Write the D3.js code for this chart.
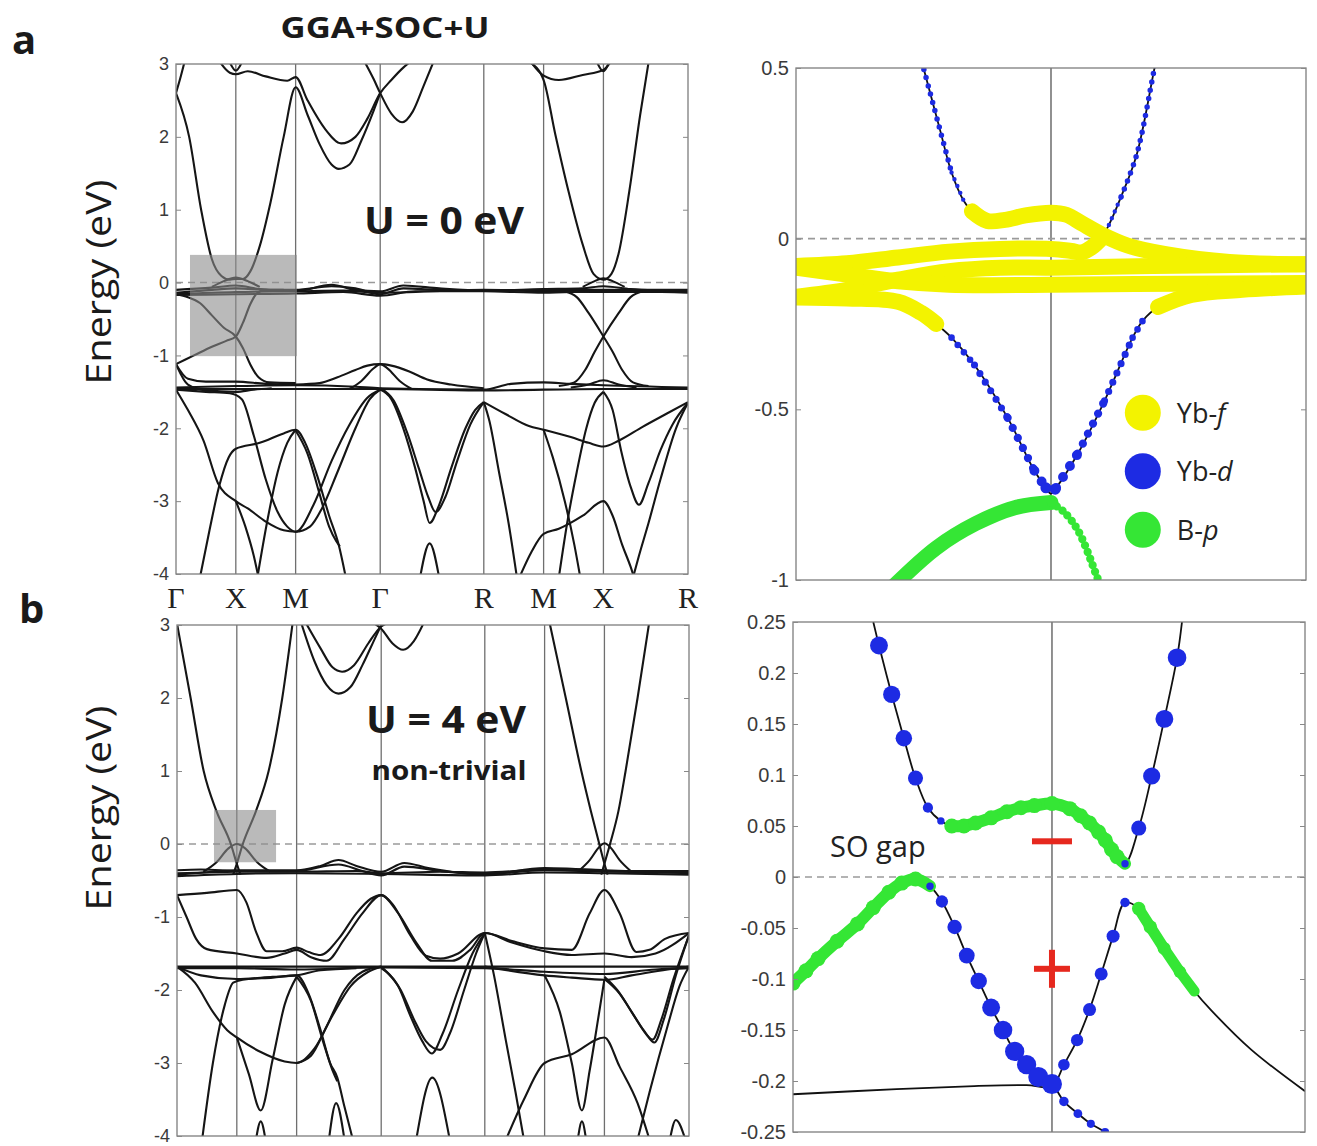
<!DOCTYPE html>
<html>
<head>
<meta charset="utf-8">
<script src="https://cdn.jsdelivr.net/npm/d3@7"></script>
<style>
body { margin: 0; background: #fff; }
svg { display: block; }
</style>
</head>
<body>
<svg id="chart" width="1317" height="1146"></svg>
<script>
// ---- k-path and ticks ----
var kPoints = [0, 0.5, 1.0, 1.707, 2.573, 3.073, 3.573, 4.280];
var kLabels = ["Γ", "X", "M", "Γ", "R", "M", "X", "R"];
var energyTicks = [3, 2, 1, 0, -1, -2, -3, -4];
var zoomTicksA = [0.5, 0, -0.5, -1];
var zoomTicksB = [0.25, 0.2, 0.15, 0.1, 0.05, 0, -0.05, -0.1, -0.15, -0.2, -0.25];

// ---- panel a, U = 0 eV : bands as [k, E] ----
var a_cond1 = [[0,2.6],[0.11,2.0],[0.21,1.0],[0.3,0.32],[0.38,0.09],[0.45,0.04],[0.5,0.05],[0.56,0.05],[0.62,0.15],[0.7,0.5],[0.79,1.1],[0.9,2.0],[1.0,2.68],[1.1,2.3],[1.2,1.9],[1.3,1.62],[1.36,1.56],[1.45,1.62],[1.55,1.95],[1.65,2.35],[1.707,2.6]];
var a_cond2 = [[0.37,3.02],[0.45,2.88],[0.5,2.86],[0.6,2.9],[0.75,2.83],[0.93,2.77],[1.0,2.82],[1.1,2.5],[1.25,2.1],[1.38,1.91],[1.5,2.0],[1.6,2.25],[1.707,2.6],[1.8,2.78],[1.9,2.95],[1.95,3.02]];
var a_cond3 = [[1.58,3.02],[1.65,2.8],[1.707,2.6],[1.8,2.32],[1.89,2.2],[1.98,2.35],[2.07,2.7],[2.15,3.02]];
var a_cond4 = [[0,2.6],[0.035,2.8],[0.07,3.02]];
var a_loop1 = [[0.45,3.02],[0.5,2.91],[0.55,3.02]];
var a_cond5 = [[2.96,3.02],[3.073,2.78],[3.17,2.04],[3.28,1.26],[3.4,0.52],[3.49,0.12],[3.573,0.04],[3.64,0.12],[3.7,0.4],[3.79,1.26],[3.88,2.3],[3.95,3.02]];
var a_cond6 = [[2.97,3.02],[3.073,2.84],[3.2,2.78],[3.4,2.85],[3.573,2.92],[3.63,3.02]];
var a_loop2 = [[3.52,3.02],[3.573,2.9],[3.62,3.02]];
var a_f1 = [[0,-0.14],[0.3,-0.1],[0.5,-0.08],[0.8,-0.1],[1.0,-0.1],[1.3,-0.05],[1.5,-0.08],[1.707,-0.16],[1.9,-0.08],[2.2,-0.1],[2.573,-0.11],[3.073,-0.09],[3.4,-0.08],[3.573,-0.05],[3.8,-0.09],[4.28,-0.12]];
var a_f2 = [[0,-0.1],[0.3,-0.07],[0.5,-0.04],[0.7,-0.09],[1.0,-0.12],[1.3,-0.03],[1.5,-0.1],[1.707,-0.12],[1.9,-0.04],[2.2,-0.08],[2.573,-0.11],[3.073,-0.1],[3.573,-0.1],[4.28,-0.1]];
var a_f3 = [[0,-0.16],[0.5,-0.13],[1.0,-0.12],[1.4,-0.11],[1.707,-0.14],[2.573,-0.1],[3.073,-0.12],[3.573,-0.13],[4.28,-0.13]];
var a_f4 = [[0,-0.17],[0.5,-0.16],[1.0,-0.15],[1.4,-0.13],[1.707,-0.18],[2.0,-0.12],[2.573,-0.12],[3.073,-0.14],[3.573,-0.12],[4.28,-0.14]];
var a_hump1 = [[0.3,-0.06],[0.4,0.02],[0.5,0.07],[0.6,0.02],[0.7,-0.06]];
var a_hump2 = [[3.4,-0.06],[3.5,0.02],[3.573,0.06],[3.65,0.02],[3.75,-0.06]];
var a_cross1 = [[0,-1.12],[0.15,-1.0],[0.3,-0.88],[0.42,-0.8],[0.5,-0.74],[0.56,-0.55],[0.62,-0.3],[0.68,-0.14],[0.75,-0.1],[0.9,-0.1]];
var a_cross2 = [[0,-0.16],[0.1,-0.2],[0.2,-0.28],[0.3,-0.45],[0.4,-0.62],[0.5,-0.74],[0.56,-0.9],[0.62,-1.12],[0.69,-1.3],[0.78,-1.37],[1.0,-1.38]];
var a_cross3 = [[3.25,-0.12],[3.35,-0.2],[3.45,-0.42],[3.573,-0.74],[3.65,-0.95],[3.73,-1.2],[3.82,-1.37],[3.95,-1.42]];
var a_cross4 = [[3.2,-1.42],[3.33,-1.37],[3.42,-1.2],[3.5,-0.95],[3.573,-0.74],[3.7,-0.42],[3.8,-0.2],[3.9,-0.12]];
var a_bell1 = [[1.0,-1.4],[1.2,-1.38],[1.35,-1.3],[1.5,-1.2],[1.6,-1.14],[1.707,-1.12],[1.8,-1.14],[1.95,-1.22],[2.1,-1.33],[2.3,-1.4],[2.573,-1.45]];
var a_bell2 = [[1.45,-1.46],[1.55,-1.35],[1.65,-1.18],[1.707,-1.12],[1.77,-1.18],[1.87,-1.35],[1.97,-1.46]];
var a_g1 = [[0,-1.12],[0.1,-1.32],[0.25,-1.36],[0.5,-1.36],[0.75,-1.39],[1.0,-1.4]];
var a_g2 = [[0,-1.12],[0.1,-1.4],[0.25,-1.48],[0.5,-1.5],[0.65,-1.47],[0.8,-1.45]];
var a_g3 = [[3.3,-1.44],[3.45,-1.4],[3.573,-1.34],[3.7,-1.4],[3.85,-1.44]];
var a_flat1 = [[0,-1.46],[1,-1.46],[1.707,-1.46],[2.573,-1.48],[3.573,-1.46],[4.28,-1.46]];
var a_flat2 = [[0,-1.44],[0.5,-1.42],[1.0,-1.41],[1.5,-1.43],[1.707,-1.45],[2.573,-1.47],[2.8,-1.39],[3.073,-1.37],[3.3,-1.39],[3.573,-1.41],[4.28,-1.44]];
var a_low1 = [[0,-1.47],[0.1,-1.75],[0.23,-2.17],[0.35,-2.75],[0.5,-3.0],[0.6,-3.1],[0.75,-3.28],[0.9,-3.4],[1.0,-3.42],[1.12,-3.35],[1.22,-3.1],[1.35,-2.6],[1.5,-2.0],[1.62,-1.6],[1.707,-1.47]];
var a_low2 = [[0.5,-3.0],[0.58,-3.35],[0.65,-3.75],[0.69,-4.05]];
var a_low3 = [[0.2,-4.05],[0.28,-3.4],[0.36,-2.8],[0.44,-2.4],[0.5,-2.28],[0.7,-2.2],[0.9,-2.07],[1.0,-2.02],[1.08,-2.2],[1.18,-2.65],[1.28,-3.2],[1.36,-3.6],[1.42,-4.05]];
var a_low4 = [[1.0,-2.03],[1.1,-2.35],[1.2,-2.9],[1.28,-3.35],[1.34,-3.55],[1.37,-3.62]];
var a_low5 = [[0.68,-4.05],[0.76,-3.3],[0.85,-2.6],[0.93,-2.2],[1.0,-2.02]];
var a_low6 = [[0,-1.47],[0.25,-1.5],[0.45,-1.52],[0.55,-1.6],[0.65,-2.1],[0.75,-2.7],[0.85,-3.15],[0.93,-3.35],[1.0,-3.42],[1.15,-3.05],[1.3,-2.45],[1.45,-1.95],[1.6,-1.58],[1.707,-1.47]];
var a_low7 = [[1.707,-1.47],[1.8,-1.6],[1.9,-2.0],[2.0,-2.55],[2.07,-3.0],[2.12,-3.3],[2.2,-3.05],[2.3,-2.55],[2.42,-2.0],[2.5,-1.75],[2.573,-1.64]];
var a_low8 = [[1.707,-1.45],[1.82,-1.62],[1.93,-2.05],[2.03,-2.55],[2.11,-2.95],[2.17,-3.15],[2.25,-2.95],[2.35,-2.45],[2.46,-1.95],[2.573,-1.64]];
var a_low9 = [[2.04,-4.05],[2.12,-3.58],[2.2,-4.05]];
var a_low10 = [[2.573,-1.64],[2.62,-1.9],[2.7,-2.6],[2.78,-3.3],[2.85,-4.05]];
var a_low11 = [[2.573,-1.64],[2.75,-1.8],[2.95,-1.97],[3.073,-2.02],[3.3,-2.12],[3.45,-2.2],[3.573,-2.25],[3.7,-2.17],[3.9,-1.98],[4.1,-1.8],[4.28,-1.64]];
var a_low12 = [[2.87,-4.05],[2.97,-3.7],[3.073,-3.45],[3.2,-3.38],[3.4,-3.2],[3.573,-3.0],[3.65,-3.2],[3.73,-3.6],[3.8,-3.9],[3.83,-4.05]];
var a_low13 = [[3.573,-1.5],[3.65,-1.75],[3.72,-2.3],[3.8,-2.8],[3.87,-3.05],[3.95,-2.75],[4.05,-2.3],[4.15,-1.95],[4.28,-1.65]];
var a_low14 = [[3.2,-4.05],[3.27,-3.3],[3.35,-2.6],[3.43,-2.0],[3.5,-1.65],[3.573,-1.5]];
var a_low15 = [[3.073,-2.02],[3.15,-2.4],[3.25,-3.0],[3.33,-3.6],[3.38,-4.05]];
var a_low16 = [[3.82,-4.05],[3.87,-3.75],[3.95,-3.3],[4.05,-2.7],[4.18,-2.0],[4.28,-1.65]];
var bandsU0 = [a_cond1, a_cond2, a_cond3, a_cond4, a_loop1, a_cond5, a_cond6, a_loop2,
  a_f1, a_f2, a_f3, a_f4, a_hump1, a_hump2, a_cross1, a_cross2, a_cross3, a_cross4,
  a_bell1, a_bell2, a_g1, a_g2, a_g3, a_flat1, a_flat2,
  a_low1, a_low2, a_low3, a_low4, a_low5, a_low6, a_low7, a_low8, a_low9, a_low10,
  a_low11, a_low12, a_low13, a_low14, a_low15, a_low16];
var boxU0 = {k: [0.117, 1.011], e: [-1.01, 0.38]};

// ---- panel b, U = 4 eV ----
var b_cond1 = [[0,3.02],[0.114,2.0],[0.223,1.0],[0.33,0.45],[0.45,0.0],[0.5,-0.27],[0.53,-0.42]];
var b_cond2 = [[0.47,-0.42],[0.5,-0.27],[0.55,0.0],[0.66,0.45],[0.766,1.0],[0.88,2.0],[0.966,3.02]];
var b_hump1 = [[0.22,-0.38],[0.33,-0.25],[0.43,-0.06],[0.5,0.0],[0.57,-0.06],[0.67,-0.25],[0.78,-0.38]];
var b_cond3 = [[1.04,3.02],[1.15,2.5],[1.25,2.18],[1.35,2.06],[1.45,2.15],[1.55,2.45],[1.65,2.8],[1.707,3.0]];
var b_cond4 = [[1.08,3.02],[1.2,2.68],[1.3,2.42],[1.38,2.36],[1.48,2.45],[1.6,2.75],[1.707,2.98],[1.75,3.02]];
var b_cond5 = [[1.65,3.02],[1.707,2.95],[1.8,2.75],[1.89,2.66],[1.98,2.78],[2.06,3.02]];
var b_cond6 = [[3.116,3.02],[3.25,2.0],[3.38,1.0],[3.46,0.45],[3.53,0.0],[3.573,-0.27],[3.6,-0.42]];
var b_cond7 = [[3.546,-0.42],[3.573,-0.27],[3.62,0.0],[3.69,0.45],[3.75,1.0],[3.85,2.0],[3.946,3.02]];
var b_hump2 = [[3.35,-0.38],[3.45,-0.22],[3.53,-0.04],[3.573,0.01],[3.62,-0.04],[3.7,-0.22],[3.8,-0.38]];
var b_f1 = [[0,-0.42],[0.3,-0.38],[0.5,-0.36],[1.0,-0.36],[1.2,-0.3],[1.35,-0.22],[1.5,-0.3],[1.707,-0.38],[1.9,-0.26],[2.1,-0.33],[2.573,-0.42],[3.073,-0.33],[3.3,-0.34],[3.573,-0.36],[4.28,-0.4]];
var b_f2 = [[0,-0.4],[0.5,-0.38],[1.0,-0.37],[1.35,-0.28],[1.55,-0.37],[1.707,-0.43],[1.9,-0.31],[2.2,-0.37],[2.573,-0.41],[3.073,-0.36],[3.573,-0.38],[4.28,-0.39]];
var b_f3 = [[0,-0.36],[0.2,-0.35],[0.5,-0.37],[1.0,-0.38],[1.5,-0.37],[1.707,-0.4],[2.2,-0.38],[2.573,-0.39],[3.073,-0.35],[3.573,-0.37],[4.28,-0.37]];
var b_f4 = [[0,-0.44],[0.5,-0.41],[1.0,-0.4],[1.707,-0.41],[2.573,-0.43],[3.073,-0.39],[3.573,-0.4],[4.28,-0.42]];
var b_p1 = [[0,-0.7],[0.25,-0.67],[0.5,-0.63],[0.58,-0.8],[0.66,-1.2],[0.75,-1.47],[0.88,-1.47],[1.0,-1.42],[1.1,-1.48],[1.2,-1.52],[1.35,-1.3],[1.5,-0.95],[1.62,-0.75],[1.707,-0.7],[1.8,-0.82],[1.95,-1.25],[2.08,-1.53],[2.2,-1.57],[2.35,-1.5],[2.573,-1.22],[2.8,-1.33],[3.073,-1.43],[3.3,-1.45],[3.45,-0.95],[3.573,-0.63],[3.7,-0.95],[3.84,-1.48],[3.95,-1.45],[4.08,-1.3],[4.28,-1.22]];
var b_p2 = [[0,-0.7],[0.08,-1.0],[0.16,-1.3],[0.25,-1.44],[0.5,-1.5],[0.75,-1.56],[0.9,-1.5],[1.0,-1.45],[1.12,-1.55],[1.25,-1.6],[1.4,-1.3],[1.55,-0.95],[1.707,-0.7],[1.85,-0.95],[2.0,-1.35],[2.13,-1.6],[2.3,-1.6],[2.45,-1.45],[2.573,-1.22],[2.8,-1.35],[3.073,-1.47],[3.3,-1.52],[3.573,-1.5],[3.8,-1.55],[4.0,-1.5],[4.28,-1.22]];
var b_flat1 = [[0,-1.68],[1,-1.68],[1.707,-1.68],[2.573,-1.68],[3.573,-1.68],[4.28,-1.68]];
var b_flat2 = [[0,-1.7],[0.5,-1.7],[1.0,-1.72],[1.707,-1.69],[2.573,-1.7],[3.073,-1.75],[3.573,-1.78],[4.0,-1.72],[4.28,-1.7]];
var b_flat3 = [[2.573,-1.68],[3.073,-1.8],[3.3,-1.83],[3.573,-1.86],[3.8,-1.8],[4.1,-1.72],[4.28,-1.68]];
var b_flat4 = [[0,-1.68],[0.2,-1.8],[0.5,-1.85],[0.8,-1.82],[1.0,-1.8],[1.2,-1.73],[1.5,-1.7]];
var b_h1 = [[0,-1.68],[0.15,-1.9],[0.3,-2.3],[0.42,-2.55],[0.5,-2.65],[0.7,-2.85],[0.9,-2.98],[1.0,-3.0],[1.15,-2.8],[1.3,-2.35],[1.45,-1.95],[1.6,-1.75],[1.707,-1.68]];
var b_q1 = [[0.21,-4.05],[0.3,-3.0],[0.4,-2.2],[0.47,-1.9],[0.55,-1.86],[0.8,-1.83],[1.0,-1.8],[1.1,-2.05],[1.2,-2.55],[1.28,-3.0],[1.34,-3.2],[1.4,-3.6],[1.47,-4.05]];
var b_q2 = [[1.0,-1.82],[1.12,-2.15],[1.22,-2.7],[1.3,-3.1],[1.34,-3.25]];
var b_v1 = [[0.5,-2.65],[0.6,-3.15],[0.7,-3.65],[0.8,-2.95],[0.9,-2.2],[1.0,-1.82]];
var b_v1L = [[0.66,-4.05],[0.7,-3.8],[0.74,-4.05]];
var b_lam2 = [[1.27,-4.05],[1.33,-3.55],[1.4,-4.05]];
var b_i3 = [[1.0,-3.0],[1.12,-2.9],[1.25,-2.5],[1.4,-2.0],[1.55,-1.75],[1.707,-1.68]];
var b_d1 = [[1.707,-1.7],[1.85,-1.95],[1.95,-2.35],[2.05,-2.7],[2.13,-2.87],[2.22,-2.6],[2.35,-2.0],[2.47,-1.5],[2.573,-1.22]];
var b_d2 = [[1.707,-1.68],[1.87,-2.0],[1.98,-2.4],[2.08,-2.7],[2.2,-2.82],[2.28,-2.6],[2.4,-2.0],[2.5,-1.5],[2.573,-1.22]];
var b_d3 = [[2.0,-4.05],[2.134,-3.2],[2.28,-4.05]];
var b_e1 = [[2.573,-1.22],[2.65,-1.8],[2.75,-2.7],[2.83,-3.4],[2.9,-4.05]];
var b_x1 = [[3.573,-1.82],[3.68,-2.0],[3.8,-2.3],[3.9,-2.55],[3.976,-2.68],[4.05,-2.4],[4.15,-1.85],[4.28,-1.25]];
var b_x2 = [[3.573,-1.85],[3.7,-2.05],[3.82,-2.35],[3.92,-2.6],[3.99,-2.72],[4.07,-2.4],[4.17,-1.8],[4.28,-1.25]];
var b_v2 = [[3.073,-1.8],[3.2,-2.3],[3.3,-3.0],[3.385,-3.65],[3.45,-3.1],[3.52,-2.4],[3.573,-1.85]];
var b_v2L = [[3.35,-4.05],[3.385,-3.8],[3.42,-4.05]];
var b_g1 = [[2.75,-4.05],[2.9,-3.5],[3.073,-3.0],[3.3,-2.88],[3.573,-2.65],[3.7,-3.05],[3.85,-3.55],[3.95,-4.05]];
var b_r1 = [[3.85,-4.05],[3.95,-3.4],[4.1,-2.5],[4.2,-1.95],[4.28,-1.68]];
var b_lam3 = [[4.12,-4.05],[4.17,-3.78],[4.25,-4.05]];
var bandsU4 = [b_cond1, b_cond2, b_hump1, b_cond3, b_cond4, b_cond5, b_cond6, b_cond7, b_hump2,
  b_f1, b_f2, b_f3, b_f4, b_p1, b_p2, b_flat1, b_flat2, b_flat3, b_flat4, b_h1,
  b_q1, b_q2, b_v1, b_v1L, b_lam2, b_i3, b_d1, b_d2, b_d3, b_e1, b_x1, b_x2,
  b_v2, b_v2L, b_g1, b_r1, b_lam3];
var boxU4 = {k: [0.309, 0.828], e: [-0.25, 0.466]};

// ---- zoom a: [k, E, orbital, weight] ----
var za_cond1 = [[-0.55,0.64,"d",0.5],[-0.5,0.5,"d",0.5],[-0.435,0.318,"d",0.5],[-0.39,0.194,"d",0.4],[-0.343,0.112,"",0],[-0.31,0.08,"f",1],[-0.25,0.052,"f",1],[-0.18,0.055,"f",1],[-0.1,0.068,"f",1],[0,0.076,"f",1],[0.06,0.07,"f",1],[0.12,0.045,"f",1],[0.2,0.012,"f",1],[0.3,-0.02,"f",1],[0.45,-0.045,"f",1],[0.7,-0.068,"f",1],[1.0,-0.075,"f",1]];
var za_cond2 = [[-1,-0.08,"f",1],[-0.8,-0.072,"f",1],[-0.6,-0.055,"f",1],[-0.4,-0.038,"f",1],[-0.2,-0.03,"f",1],[0,-0.03,"f",1],[0.08,-0.036,"f",1],[0.12,-0.04,"f",1],[0.16,-0.025,"f",1],[0.196,0.0,"",0],[0.227,0.04,"d",0.4],[0.275,0.123,"d",0.5],[0.336,0.246,"d",0.5],[0.406,0.5,"d",0.5],[0.44,0.62,"d",0.5]];
var za_f1 = [[-1,-0.17,"f",1],[-0.8,-0.15,"f",1],[-0.6,-0.12,"f",1],[-0.4,-0.095,"f",1],[-0.2,-0.085,"f",1],[0,-0.085,"f",1],[0.4,-0.08,"f",1],[1,-0.075,"f",1]];
var za_f2 = [[-1,-0.085,"f",1],[-0.8,-0.105,"f",1],[-0.6,-0.125,"f",1],[-0.4,-0.135,"f",1],[0,-0.135,"f",1],[0.5,-0.132,"f",1],[1,-0.13,"f",1]];
var za_val = [[-1,-0.172,"f",1],[-0.8,-0.175,"f",1],[-0.6,-0.185,"f",1],[-0.51,-0.217,"f",1],[-0.45,-0.25,"",0],[-0.39,-0.29,"d",0.6],[-0.3,-0.37,"d",0.65],[-0.17,-0.525,"d",0.75],[-0.065,-0.68,"d",0.9],[-0.02,-0.73,"d",1],[0,-0.747,"d",1],[0.02,-0.73,"d",0.9],[0.105,-0.63,"d",0.75],[0.21,-0.475,"d",0.65],[0.32,-0.29,"d",0.6],[0.36,-0.24,"",0],[0.42,-0.2,"f",1],[0.55,-0.165,"f",1],[0.75,-0.15,"f",1],[1,-0.14,"f",1]];
var za_green = [[-0.62,-1.02,"p",1],[-0.45,-0.906,"p",1],[-0.296,-0.835,"p",1],[-0.142,-0.788,"p",1],[0,-0.773,"p",0.55],[0.05,-0.8,"p",0.55],[0.106,-0.855,"p",0.55],[0.18,-0.99,"p",0.55],[0.2,-1.03,"p",0.55]];
var zoomBandsA = [za_cond1, za_cond2, za_f1, za_f2, za_val, za_green];
var legendNames = ["Yb-", "Yb-", "B-"];
var legendOrbitals = ["f", "d", "p"];

// ---- zoom b ----
var zb_cond = [[-0.69,0.25,"",0],[-0.668,0.227,"d",0.85],[-0.619,0.179,"d",0.8],[-0.572,0.136,"d",0.75],[-0.527,0.097,"d",0.65],[-0.479,0.068,"d",0.3],[-0.429,0.055,"d",0.1],[-0.387,0.05,"p",1],[-0.34,0.05,"p",1],[-0.295,0.053,"p",1],[-0.235,0.058,"p",1],[-0.174,0.064,"p",1],[-0.12,0.068,"p",1],[-0.068,0.07,"p",1],[0,0.072,"p",1],[0.069,0.067,"p",1],[0.11,0.06,"p",1],[0.145,0.053,"p",1],[0.18,0.044,"p",1],[0.206,0.036,"p",1],[0.23,0.027,"p",1],[0.251,0.02,"p",1],[0.282,0.013,"d",0.1],[0.335,0.048,"d",0.65],[0.385,0.099,"d",0.8],[0.434,0.155,"d",0.85],[0.483,0.215,"d",0.9],[0.502,0.25,"",0]];
var zb_val1 = [[-1,-0.104,"p",1],[-0.95,-0.092,"p",1],[-0.903,-0.08,"p",1],[-0.83,-0.063,"p",1],[-0.751,-0.046,"p",1],[-0.69,-0.03,"p",1],[-0.63,-0.015,"p",1],[-0.58,-0.006,"p",1],[-0.527,-0.002,"p",1],[-0.471,-0.009,"d",0.1],[-0.425,-0.024,"d",0.45],[-0.376,-0.049,"d",0.6],[-0.329,-0.077,"d",0.7],[-0.283,-0.102,"d",0.75],[-0.235,-0.128,"d",0.85],[-0.189,-0.15,"d",0.9],[-0.144,-0.171,"d",0.95],[-0.098,-0.184,"d",0.95],[-0.053,-0.196,"d",1],[0,-0.203,"d",1],[0.046,-0.22,"d",0.25],[0.1,-0.232,"d",0.2],[0.15,-0.242,"d",0.15],[0.205,-0.25,"d",0.15],[0.25,-0.26,"",0]];
var zb_val2 = [[-1,-0.213,"",0],[-0.6,-0.208,"",0],[-0.3,-0.205,"",0],[-0.098,-0.204,"",0],[0,-0.205,"",0],[0.046,-0.184,"d",0.4],[0.097,-0.16,"d",0.45],[0.145,-0.13,"d",0.5],[0.19,-0.095,"d",0.5],[0.236,-0.058,"d",0.5],[0.282,-0.025,"d",0.25],[0.335,-0.031,"p",0.7],[0.38,-0.049,"p",0.7],[0.433,-0.07,"p",0.6],[0.494,-0.093,"p",0.5],[0.55,-0.112,"",0],[0.616,-0.131,"",0],[0.768,-0.169,"",0],[0.977,-0.21,"",0]];
var zoomBandsB = [zb_cond, zb_val1, zb_val2];
var parityMinus = [0, 0.035];
var parityPlus = [0, -0.09];

// ---- drawing ----
var svg = d3.select("#chart");
var orbColor = {f: "#f3f300", d: "#1d2be3", p: "#35e635"};
var sans = "'Open Sans', sans-serif";

function frameAndAxes(g, x, y, ticks, fontSize) {
  var xr = x.range(), yr = y.range();
  g.append("rect").attr("x", xr[0]).attr("y", yr[1])
    .attr("width", xr[1] - xr[0]).attr("height", yr[0] - yr[1])
    .attr("fill", "none").attr("stroke", "#7d7d7d").attr("stroke-width", 1.3);
  var left = g.append("g").attr("transform", "translate(" + xr[0] + ",0)")
    .call(d3.axisLeft(y).tickValues(ticks).tickSize(-5).tickPadding(7).tickFormat(String));
  left.select(".domain").remove();
  left.attr("font-family", "'Liberation Sans', Arial, sans-serif").attr("font-size", fontSize).attr("color", "#3a3a3a");
  left.selectAll("line").attr("stroke", "#888");
  var right = g.append("g").attr("transform", "translate(" + xr[1] + ",0)")
    .call(d3.axisRight(y).tickValues(ticks).tickSize(-5).tickFormat(""));
  right.select(".domain").remove();
  right.selectAll("line").attr("stroke", "#888");
}

function bandPanel(id, xr, yr, bands, box) {
  var x = d3.scaleLinear().domain([0, kPoints[kPoints.length - 1]]).range(xr),
      y = d3.scaleLinear().domain([-4, 3]).range(yr);
  var g = svg.append("g");
  g.append("clipPath").attr("id", id).append("rect")
    .attr("x", xr[0]).attr("y", yr[1]).attr("width", xr[1] - xr[0]).attr("height", yr[0] - yr[1]);
  var plot = g.append("g").attr("clip-path", "url(#" + id + ")");

  plot.selectAll("line.k").data(kPoints.slice(1, -1)).enter().append("line")
    .attr("x1", x).attr("x2", x).attr("y1", yr[1]).attr("y2", yr[0])
    .attr("stroke", "#6f6f6f").attr("stroke-width", 1.3);
  plot.append("line").attr("x1", xr[0]).attr("x2", xr[1]).attr("y1", y(0)).attr("y2", y(0))
    .attr("stroke", "#9a9a9a").attr("stroke-width", 1.6).attr("stroke-dasharray", "7,5");

  var line = d3.line().curve(d3.curveMonotoneX)
    .x(function(d) { return x(d[0]); })
    .y(function(d) { return y(d[1]); });
  plot.selectAll("path.band").data(bands).enter().append("path")
    .attr("class", "band").attr("d", line)
    .attr("fill", "none").attr("stroke", "#151515").attr("stroke-width", 2.1);

  // highlighted region
  plot.append("rect")
    .attr("x", x(box.k[0])).attr("y", y(box.e[1]))
    .attr("width", x(box.k[1]) - x(box.k[0])).attr("height", y(box.e[0]) - y(box.e[1]))
    .attr("fill", "#8c8c8c").attr("opacity", 0.6);

  frameAndAxes(g, x, y, energyTicks, 18);
  return {x: x, y: y, g: g};
}

// split a band into runs sharing orbital character and weight
function runs(band) {
  var out = [], cur = null;
  band.forEach(function(p) {
    var key = p[2] + "|" + p[3];
    if (!cur || cur.key !== key) {
      if (cur) cur.pts.push(p);
      cur = {key: key, orb: p[2], w: p[3], pts: [p]};
      out.push(cur);
    } else {
      cur.pts.push(p);
    }
  });
  return out.filter(function(r) { return r.orb && r.pts.length > 1; });
}

function zoomPanel(id, kd, xr, ed, yr, bands) {
  var x = d3.scaleLinear().domain(kd).range(xr),
      y = d3.scaleLinear().domain(ed).range(yr);
  var g = svg.append("g");
  g.append("clipPath").attr("id", id).append("rect")
    .attr("x", xr[0]).attr("y", yr[1]).attr("width", xr[1] - xr[0]).attr("height", yr[0] - yr[1]);
  var plot = g.append("g").attr("clip-path", "url(#" + id + ")");
  plot.append("line").attr("x1", x(0)).attr("x2", x(0)).attr("y1", yr[1]).attr("y2", yr[0])
    .attr("stroke", "#555").attr("stroke-width", 1.3);
  plot.append("line").attr("x1", xr[0]).attr("x2", xr[1]).attr("y1", y(0)).attr("y2", y(0))
    .attr("stroke", "#9a9a9a").attr("stroke-width", 1.6).attr("stroke-dasharray", "7,5");
  var line = d3.line().curve(d3.curveCatmullRom.alpha(0.5))
    .x(function(d) { return x(d[0]); })
    .y(function(d) { return y(d[1]); });
  plot.selectAll("path.band").data(bands).enter().append("path")
    .attr("d", line).attr("fill", "none").attr("stroke", "#111").attr("stroke-width", 1.8);
  return {x: x, y: y, g: g, plot: plot, line: line};
}

// ---- panel a (left) ----
var pa = bandPanel("clipA", [176, 688], [574, 64], bandsU0, boxU0);
pa.g.selectAll("text.klab").data(kPoints).enter().append("text")
  .attr("x", function(d) { return pa.x(d); }).attr("y", 608)
  .attr("text-anchor", "middle").attr("font-family", "'Liberation Serif', 'Times New Roman', serif")
  .attr("font-size", 30).attr("fill", "#222")
  .text(function(d, i) { return kLabels[i]; });

// ---- panel b (left) ----
var pb = bandPanel("clipB", [177, 689], [1136, 625], bandsU4, boxU4);

// ---- zoom a ----
var za = zoomPanel("clipZA", [-1, 1], [796, 1306], [-1, 0.5], [580, 68], zoomBandsA);
var allRunsA = [];
zoomBandsA.forEach(function(b) { runs(b).forEach(function(r) { allRunsA.push(r); }); });
["f", "d", "p"].forEach(function(orb) {
  allRunsA.filter(function(r) { return r.orb === orb; }).forEach(function(r) {
    var p = za.plot.append("path").attr("d", za.line(r.pts)).attr("fill", "none")
      .attr("stroke", orbColor[orb]).attr("stroke-linecap", "round").attr("stroke-linejoin", "round");
    if (orb === "f") p.attr("stroke-width", 16);
    if (orb === "d") p.attr("stroke-width", 11 * r.w).attr("stroke-dasharray", "0 " + (11 * r.w + 3));
    if (orb === "p") {
      p.attr("stroke-width", 15 * r.w);
      if (r.w < 0.9) p.attr("stroke-dasharray", "0 7");
    }
  });
});
frameAndAxes(za.g, za.x, za.y, zoomTicksA, 20);

// legend
var legend = za.g.append("g");
legendOrbitals.forEach(function(o, i) {
  var cy = za.y(-0.51) + i * 58.5, cx = za.x(0.36);
  legend.append("circle").attr("cx", cx).attr("cy", cy).attr("r", 18).attr("fill", orbColor[o]);
  var t = legend.append("text").attr("x", cx + 34).attr("y", cy + 10)
    .attr("font-family", sans).attr("font-size", 27).attr("fill", "#222");
  t.append("tspan").text(legendNames[i]);
  t.append("tspan").attr("font-style", "italic").text(o);
});

// ---- zoom b ----
var zb = zoomPanel("clipZB", [-1, 0.977], [793, 1305], [-0.25, 0.25], [1132, 622], zoomBandsB);
var allRunsB = [];
zoomBandsB.forEach(function(b) { runs(b).forEach(function(r) { allRunsB.push(r); }); });
allRunsB.filter(function(r) { return r.orb === "p"; }).forEach(function(r) {
  zb.plot.append("path").attr("d", zb.line(r.pts)).attr("fill", "none")
    .attr("stroke", orbColor.p).attr("stroke-width", 9 + 3 * r.w).attr("stroke-linecap", "round");
});
var greenPts = [], bluePts = [];
zoomBandsB.forEach(function(b) {
  b.forEach(function(p) {
    if (p[2] === "p") greenPts.push(p);
    if (p[2] === "d") bluePts.push(p);
  });
});
zb.plot.selectAll("circle.g").data(greenPts).enter().append("circle")
  .attr("cx", function(d) { return zb.x(d[0]); }).attr("cy", function(d) { return zb.y(d[1]); })
  .attr("r", function(d) { return 5 + 2.5 * d[3]; }).attr("fill", orbColor.p);
zb.plot.selectAll("circle.b").data(bluePts).enter().append("circle")
  .attr("cx", function(d) { return zb.x(d[0]); }).attr("cy", function(d) { return zb.y(d[1]); })
  .attr("r", function(d) { return 3 + 7 * d[3]; }).attr("fill", orbColor.d);
frameAndAxes(zb.g, zb.x, zb.y, zoomTicksB, 20);

// parity marks
var red = "#e6281e";
zb.g.append("rect").attr("x", zb.x(parityMinus[0]) - 20).attr("y", zb.y(parityMinus[1]) - 3)
  .attr("width", 40).attr("height", 6).attr("fill", red);
zb.g.append("rect").attr("x", zb.x(parityPlus[0]) - 18).attr("y", zb.y(parityPlus[1]) - 3)
  .attr("width", 36).attr("height", 6).attr("fill", red);
zb.g.append("rect").attr("x", zb.x(parityPlus[0]) - 3).attr("y", zb.y(parityPlus[1]) - 19)
  .attr("width", 6).attr("height", 38).attr("fill", red);
zb.g.append("text").attr("x", zb.x(-0.857)).attr("y", zb.y(0.02))
  .attr("font-family", sans).attr("font-size", 29).attr("fill", "#222").text("SO gap");

// ---- labels ----
function label(txt, x, y, size, weight, anchor, len) {
  var t = svg.append("text").attr("x", x).attr("y", y)
    .attr("font-family", sans).attr("font-size", size).attr("font-weight", weight)
    .attr("text-anchor", anchor).attr("fill", "#1a1a1a").text(txt);
  if (len) t.attr("textLength", len).attr("lengthAdjust", "spacingAndGlyphs");
  return t;
}
label("a", 12, 54, 40, "bold", "start");
label("b", 19, 623, 40, "bold", "start");
label("GGA+SOC+U", 385, 38, 29, "bold", "middle", 209);
label("U = 0 eV", 444, 234, 37, "bold", "middle", 160);
label("U = 4 eV", 446, 733, 37, "bold", "middle", 160);
label("non-trivial", 449, 780, 27, "bold", "middle", 155);
[282, 808].forEach(function(cy) {
  svg.append("text").attr("transform", "translate(111," + cy + ") rotate(-90)")
    .attr("text-anchor", "middle").attr("font-family", sans).attr("font-size", 35)
    .attr("textLength", 205).attr("lengthAdjust", "spacingAndGlyphs")
    .attr("fill", "#1a1a1a").text("Energy (eV)");
});
</script>
</body>
</html>
